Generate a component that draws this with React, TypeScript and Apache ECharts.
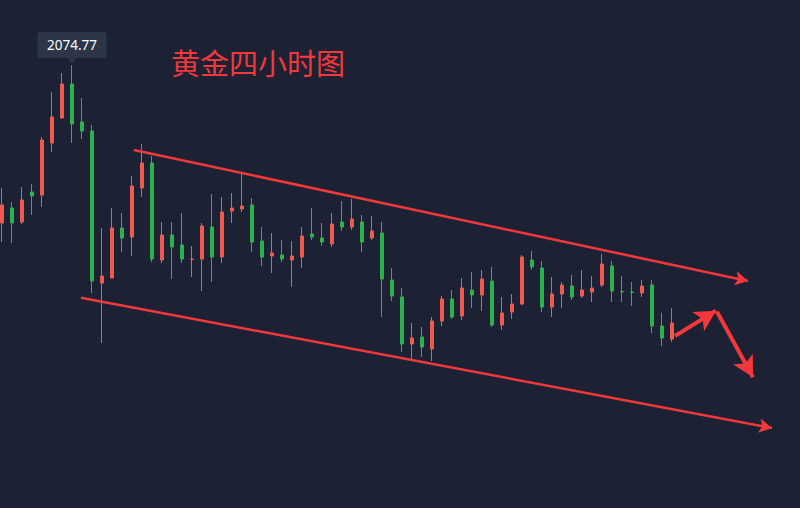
import React, { useEffect, useRef } from "react";
import * as echarts from "echarts";

// [open, close, low, high]
const candles: number[][] = [
  [2027.4, 2032.8, 2021.7, 2037.9],
  [2031.9, 2027.4, 2021.4, 2033.7],
  [2027.7, 2034.3, 2027.1, 2038.2],
  [2036.7, 2035.5, 2029.8, 2039.1],
  [2035.8, 2052.3, 2032.2, 2053.2],
  [2051.4, 2059.2, 2048.7, 2066.7],
  [2058.9, 2069.1, 2058.6, 2072.4],
  [2069.1, 2057.1, 2051.4, 2074.77],
  [2057.7, 2055.0, 2052.6, 2064.9],
  [2055.0, 2010.0, 2006.4, 2056.8],
  [2009.4, 2011.5, 1991.4, 2025.9],
  [2010.9, 2025.9, 2010.9, 2031.9],
  [2025.9, 2022.9, 2018.7, 2030.4],
  [2023.2, 2038.5, 2017.5, 2041.5],
  [2037.9, 2045.4, 2035.2, 2051.1],
  [2045.4, 2016.6, 2015.7, 2047.5],
  [2016.3, 2023.8, 2015.4, 2027.7],
  [2023.8, 2020.2, 2010.6, 2027.7],
  [2020.8, 2016.6, 2015.4, 2030.4],
  [2016.45, 2016.6, 2011.2, 2020.5],
  [2016.6, 2026.5, 2007.0, 2027.4],
  [2026.2, 2017.2, 2009.7, 2036.1],
  [2017.2, 2030.7, 2015.4, 2035.2],
  [2031.0, 2031.9, 2027.4, 2036.4],
  [2031.6, 2032.5, 2030.7, 2042.4],
  [2032.8, 2021.7, 2018.7, 2034.9],
  [2022.0, 2017.2, 2014.5, 2026.2],
  [2017.5, 2018.4, 2012.4, 2024.4],
  [2017.8, 2016.6, 2015.7, 2022.3],
  [2016.3, 2017.5, 2008.2, 2022.0],
  [2017.2, 2023.5, 2013.9, 2026.2],
  [2024.1, 2023.2, 2022.3, 2031.9],
  [2022.9, 2021.7, 2020.5, 2027.4],
  [2021.1, 2027.1, 2020.2, 2030.4],
  [2027.7, 2026.2, 2025.0, 2034.0],
  [2026.2, 2028.6, 2025.3, 2034.6],
  [2027.7, 2021.7, 2018.7, 2029.8],
  [2022.9, 2025.0, 2022.3, 2029.5],
  [2024.4, 2010.6, 1999.2, 2027.7],
  [2010.3, 2005.5, 2004.0, 2013.9],
  [2005.2, 1991.1, 1988.7, 2007.9],
  [1991.1, 1992.9, 1986.6, 1997.4],
  [1993.2, 1990.2, 1987.2, 1996.2],
  [1989.6, 1998.0, 1986.0, 1999.2],
  [1998.0, 2004.6, 1996.5, 2005.5],
  [2004.6, 1999.2, 1998.6, 2007.3],
  [1999.5, 2007.9, 1998.3, 2010.9],
  [2007.3, 2005.8, 2001.9, 2012.7],
  [2005.8, 2010.6, 2001.0, 2013.3],
  [2010.0, 1996.8, 1996.2, 2014.2],
  [1996.8, 2000.4, 1995.3, 2005.2],
  [2000.7, 2003.1, 1998.6, 2006.1],
  [2003.1, 2017.2, 2002.8, 2017.8],
  [2016.3, 2014.2, 2013.3, 2019.0],
  [2013.9, 2002.2, 2000.7, 2016.0],
  [2002.2, 2006.1, 1999.2, 2011.2],
  [2006.1, 2008.8, 2001.9, 2009.7],
  [2008.5, 2005.2, 2004.3, 2011.8],
  [2005.5, 2007.3, 2004.9, 2013.3],
  [2006.7, 2007.9, 2003.7, 2011.5],
  [2008.8, 2015.1, 2008.2, 2018.1],
  [2014.5, 2007.0, 2003.7, 2016.0],
  [2006.85, 2006.7, 2003.7, 2011.5],
  [2006.7, 2006.55, 2002.5, 2009.7],
  [2006.4, 2008.5, 2005.2, 2010.3],
  [2008.8, 1996.5, 1994.4, 2010.3],
  [1996.5, 1992.9, 1990.5, 2000.5],
  [1992.6, 1997.4, 1991.7, 2001.9],
];

const slotCount = 80;
const categories = Array.from({ length: slotCount }, (_, i) => `K${i + 1}`);

const peakIndex = 7;
const peakPrice = 2074.77;

const priceMin = 1941.9;
const priceMax = 2094.3;

// annotation lines: [slot, price]
const upperChannel = [[13.2, 2049.3], [74.6, 2010.0]];
const lowerChannel = [[7.9, 2005.0], [77.0, 1965.9]];
const bounceArrow = [[67.3, 1993.5], [71.4, 2001.1]];
const dropArrow = [[71.5, 2000.8], [75.1, 1981.1]];

const titleText = "黄金四小时图";

const BG = "#1c2233";
const UP = "#ee5a4f";
const DOWN = "#2bb24c";
const ANNO = "#f2383b";

function arrowLine(pts: number[][], width: number, head: number[]) {
  return [
    { coord: pts[0], symbol: "none", lineStyle: { width, color: ANNO, type: "solid" } },
    { coord: pts[1], symbol: "arrow", symbolSize: head, lineStyle: { width, color: ANNO, type: "solid" } },
  ];
}

export default function App() {
  const ref = useRef<HTMLDivElement>(null);
  useEffect(() => {
    document.body.style.margin = "0";
    document.body.style.background = BG;
    const chart = echarts.init(ref.current!, null, { renderer: "svg" });
    chart.setOption({
      animation: false,
      backgroundColor: BG,
      title: {
        text: titleText,
        left: 166,
        top: 42,
        textStyle: {
          color: ANNO,
          fontSize: 29,
          fontWeight: "normal",
          fontFamily: "Noto Sans CJK SC",
        },
      },
      grid: { left: 2, right: 8, top: 0, bottom: 0 },
      xAxis: [
        {
          type: "category",
          data: categories,
          boundaryGap: false,
          show: false,
        },
        {
          type: "value",
          min: 0,
          max: slotCount - 1,
          show: false,
        },
      ],
      yAxis: {
        type: "value",
        min: priceMin,
        max: priceMax,
        show: false,
        splitLine: { show: false },
      },
      series: [
        {
          type: "candlestick",
          data: candles,
          barWidth: 4,
          clip: false,
          itemStyle: {
            color: UP,
            color0: DOWN,
            borderColor: UP,
            borderColor0: DOWN,
            borderWidth: 1,
          },
          markPoint: {
            silent: true,
            data: [
              {
                coord: [peakIndex, peakPrice],
                value: peakPrice,
                symbol:
                  "path://M3,0 H66 Q69,0 69,3 V23 Q69,26 66,26 H39 L34.5,32 L30,26 H3 Q0,26 0,23 V3 Q0,0 3,0 Z",
                symbolSize: [69, 32],
                symbolOffset: [0, -17],
                symbolKeepAspect: false,
                itemStyle: { color: "#2d3549" },
                label: {
                  show: true,
                  position: "inside",
                  offset: [0, -3],
                  formatter: () => peakPrice.toFixed(2),
                  color: "#ffffff",
                  fontSize: 13.5,
                  fontFamily: "Noto Sans",
                },
              },
            ],
          },
        },
        {
          type: "line",
          xAxisIndex: 1,
          yAxisIndex: 0,
          data: [],
          silent: true,
          markLine: {
            silent: true,
            animation: false,
            label: { show: false },
            lineStyle: { color: ANNO, type: "solid", width: 2 },
            emphasis: { disabled: true },
            data: [
              arrowLine(upperChannel, 2.5, [11, 13]),
              arrowLine(lowerChannel, 2.5, [11, 13]),
              arrowLine(bounceArrow, 4, [17, 21]),
              arrowLine(dropArrow, 4, [17, 21]),
            ],
          },
        },
      ],
    });
    return () => chart.dispose();
  }, []);
  return (
    <div
      ref={ref}
      style={{ position: "fixed", left: 0, top: 0, width: 800, height: 508 }}
    />
  );
}
